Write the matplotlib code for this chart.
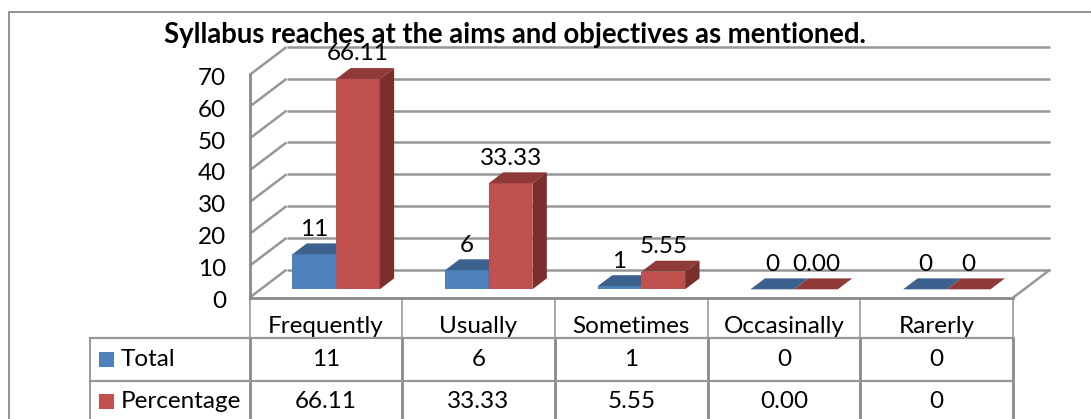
import matplotlib
matplotlib.use("Agg")
import matplotlib.pyplot as plt
from matplotlib.patches import Polygon, Rectangle
from matplotlib.transforms import IdentityTransform, Affine2D

plt.rcParams['font.family'] = ['Lato', 'DejaVu Sans']

categories = ["Frequently", "Usually", "Sometimes", "Occasinally", "Rarerly"]
series_names = ["Total", "Percentage"]
total = [11, 6, 1, 0, 0]
percentage = [66.11, 33.33, 5.55, 0.00, 0]
total_labels = ["11", "6", "1", "0", "0"]
percentage_labels = ["66.11", "33.33", "5.55", "0.00", "0"]
yticks = [0, 10, 20, 30, 40, 50, 60, 70]
title = "Syllabus reaches at the aims and objectives as mentioned."

W, H = 1091, 419
GRAY = "#979797"
DARK = "#8a8a8a"
BLUE = ("#4f81bd", "#3c618f", "#335279")
RED = ("#c0504d", "#8f3a38", "#7a2f2d")
DX, DY = 37, 28  # depth of the floor in pixels
BASE, DEPTH = 0.3, 0.39
BAR_W = 0.286
FS = 17.5

fig = plt.figure(figsize=(W / 100, H / 100), dpi=100)
ax = fig.add_axes([249.5 / W, 1 - 297.7 / H, 763.5 / W, 222.7 / H])
ax.set_xlim(0, 5)
ax.set_ylim(0, 70)
ax.patch.set_alpha(0)

# full figure axes in pixels, for the frame and the table
top = fig.add_axes([0, 0, 1, 1], zorder=-1)
top.set_xlim(0, W)
top.set_ylim(H, 0)
top.axis("off")


def pt(x, v, d=0.0):
	p = ax.transData.transform((x, v))
	return (p[0] + d * DX, p[1] + d * DY)


def poly(points, color, z):
	ax.add_patch(Polygon(points, closed=True, facecolor=color, edgecolor="none",
		transform=IdentityTransform(), clip_on=False, zorder=z))


def pline(a, b, lw=1.8, color=GRAY, z=1):
	ax.plot([a[0], b[0]], [a[1], b[1]], color=color, lw=lw,
		transform=IdentityTransform(), clip_on=False, zorder=z, solid_capstyle="butt")


def bar3d(x0, x1, v, colors, z):
	d0, d1 = BASE, BASE + DEPTH
	poly([pt(x0, 0, d0), pt(x1, 0, d0), pt(x1, v, d0), pt(x0, v, d0)], colors[0], z)
	poly([pt(x0, v, d0), pt(x1, v, d0), pt(x1, v, d1), pt(x0, v, d1)], colors[1], z)
	poly([pt(x1, 0, d0), pt(x1, 0, d1), pt(x1, v, d1), pt(x1, v, d0)], colors[2], z)


# walls
for v in yticks:
	pline(pt(0, v), pt(0, v, 1))
	pline(pt(0, v, 1), pt(5, v, 1))
pline(pt(5, 0), pt(5, 0, 1))

# bars
for i in range(len(categories)):
	c = i + 0.5 - 0.006
	bar3d(c - BAR_W, c, total[i], BLUE, 3)
	bar3d(c, c + BAR_W, percentage[i], RED, 4)
	p = pt(c - BAR_W / 2, total[i], BASE)
	ax.text(p[0], p[1] + 25, total_labels[i], transform=IdentityTransform(),
		ha="center", va="center", fontsize=FS, color="black", zorder=6)
	p = pt(c + BAR_W / 2, percentage[i], BASE)
	ax.text(p[0], p[1] + 25, percentage_labels[i], transform=IdentityTransform(),
		ha="center", va="center", fontsize=FS, color="black", zorder=6)

# axes
for s in ["top", "right"]:
	ax.spines[s].set_visible(False)
for s in ["left", "bottom"]:
	ax.spines[s].set_color(DARK)
	ax.spines[s].set_linewidth(2.0)
ax.set_yticks(yticks)
ax.set_xticks([i + 0.5 for i in range(len(categories))], categories)
ax.tick_params(axis="y", length=0, pad=17, labelsize=FS)
ax.tick_params(axis="x", length=0, pad=13, labelsize=FS)
for t in ax.get_yticklabels():
	t.set_transform(t.get_transform() + Affine2D().translate(0, -1.5))

ax.text(514.5 / W, 1 - 35 / H, title, transform=fig.transFigure, ha="center", va="center",
	fontsize=19.8, fontweight="bold", color="black", zorder=7)

# frame
top.plot([8.5, 8.5, W], [H, 12, 12], color=DARK, lw=1.3)

# data table
col = 763.5 / 5
for i in range(6):
	x = 249.5 + i * col
	top.plot([x, x], [298, 338], color="#a8a8a8", lw=1.4)
	top.plot([x, x], [338, H], color=DARK, lw=2.0)
top.plot([90, 90], [338, H], color=GRAY, lw=1.4)
for y in [338.3, 380.7]:
	top.plot([90, 1013], [y, y], color=GRAY, lw=1.6)

rows = [(359.5, total_labels, BLUE[0]), (401.5, percentage_labels, RED[0])]
for name, (y, labels, color) in zip(series_names, rows):
	top.add_patch(Rectangle((99, y - 8), 15, 15, facecolor=color, edgecolor="none"))
	top.text(120.5, y, name, ha="left", va="center", fontsize=FS, color="black")
	for i, s in enumerate(labels):
		top.text(249.5 + (i + 0.5) * col, y, s, ha="center", va="center", fontsize=FS, color="black")
top.set_xlim(0, W)
top.set_ylim(H, 0)

fig.savefig("out.png", dpi=100)
